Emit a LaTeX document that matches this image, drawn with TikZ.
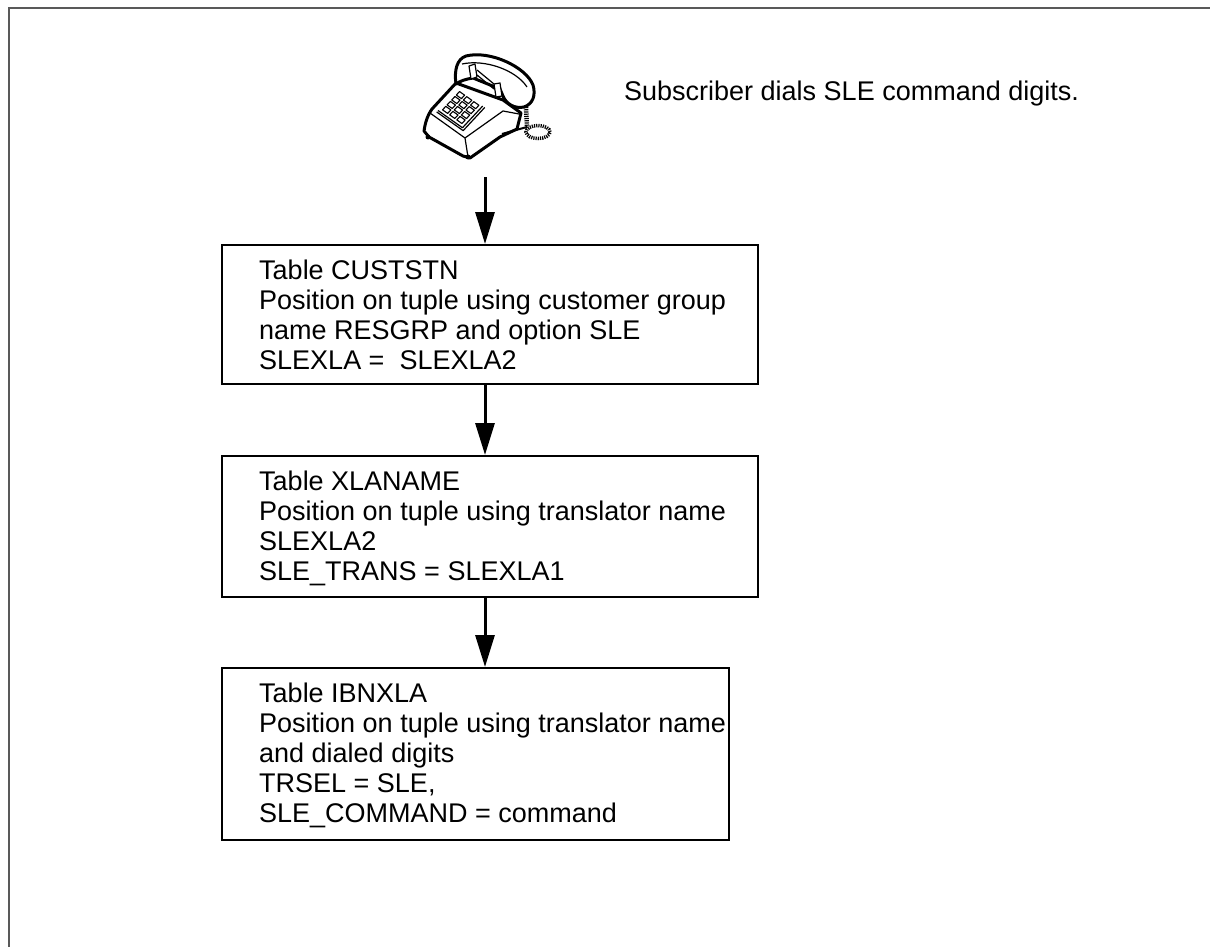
\documentclass[tikz,border=0pt]{standalone}
\usepackage{fontspec}
\setmainfont{Liberation Sans}
\usetikzlibrary{arrows.meta}
\begin{document}
\begin{tikzpicture}[x=1pt,y=-1pt,
  frame/.style={draw=black!65, line width=2pt},
  stepbox/.style={draw, line width=1.5pt, anchor=north west, inner sep=0pt},
  boxtext/.style={anchor=north west, inner sep=0pt, align=left, font=\fontsize{27}{30}\selectfont},
  flow/.style={line width=3pt, -{Triangle[length=32pt,width=19pt]}},
  ph/.style={line width=3pt, line join=round, line cap=round},
  thin/.style={line width=1.2pt, line join=round}]
\useasboundingbox (0,0) rectangle (1210,947);

% page frame (top and left rules)
\draw[frame] (9,947) -- (9,8.5) -- (1210,8.5);

% ---- desk telephone ----
% base
\draw[ph, fill=white] (456,83) -- (432,109) .. controls (427,116) and (425,124) .. (424,131)
  -- (429,137) -- (463,156) -- (470,158) -- (500,137) -- (517,129) -- (521,113) -- (503,100) -- cycle;
\draw[thin] (430,113) -- (465,138) -- (468,157);
\draw[thin] (465,138) -- (503,111) -- (519,114);
% keypad (drawn in the slanted plane of the base top)
\begin{scope}[shift={(430,113)}, x={(27pt,29pt)}, y={(34pt,-24pt)}]
  \draw[thin] (0.12,0.1) -- (0.12,0.88) -- (0.92,0.88);
  \draw[thin] (0.17,0.1) -- (0.17,0.82) -- (0.92,0.82);
  \foreach \i in {0,...,3}
    \foreach \j in {0,...,2}
      \draw[line width=1.1pt, fill=white, line join=round]
        (0.25+0.17*\i, 0.17+0.21*\j) -- ++(0.12,0) -- ++(0,0.15) -- ++(-0.12,0) -- cycle;
\end{scope}
% feet
\fill (428,137) circle (2.5pt);
\fill (468,157) circle (2.5pt);
% handset
\draw[ph, fill=white] (456,84) .. controls (454,70) and (457,59) .. (466,56)
  .. controls (490,50) and (526,67) .. (533,85)
  .. controls (536,95) and (533,104) .. (524,107)
  .. controls (515,109) and (506,104) .. (503,96) -- (500,89) -- (473,78)
  .. controls (466,79) and (460,81) .. (456,84) -- cycle;
\draw[thin] (462,64) .. controls (485,59) and (516,70) .. (527,87);
\draw[thin, fill=white] (469,66) -- (475,64) -- (477,77) -- (471,79) -- cycle;
\draw[thin, fill=white] (494,84) -- (500,83) -- (502,96) -- (496,97) -- cycle;
\draw[thin] (477,70) -- (494,84);
\draw[thin] (477,75) -- (494,89);
% coiled cord
\draw[line width=4.5pt, dash pattern=on 1.2pt off 1pt] (526,107) -- (527,127);
\draw[line width=3.5pt, dash pattern=on 1.2pt off 1pt] (538,132) ellipse (12pt and 6.5pt);
\draw[line width=2pt] (502,134) -- (516,130) -- (527,127);

\coordinate (handsetfoot) at (485,177);

\node[anchor=base west, inner sep=0pt, font=\fontsize{27}{30}\selectfont] (dials) at (624,101)
  {Subscriber dials SLE command digits.};

% ---- table boxes ----
\node[stepbox, minimum width=536pt, minimum height=139pt] (custstn) at (221,244) {};
\node[boxtext] (custstntxt) at (259,260)
  {Table CUSTSTN\\Position on tuple using customer group\\name RESGRP and option SLE\\SLEXLA = \ SLEXLA2};

\node[stepbox, minimum width=536pt, minimum height=141pt] (xlaname) at (221,455) {};
\node[boxtext] (xlanametxt) at (259,471)
  {Table XLANAME\\Position on tuple using translator name\\SLEXLA2\\SLE\_TRANS = SLEXLA1};

\node[stepbox, minimum width=507pt, minimum height=172pt] (ibnxla) at (221,667) {};
\node[boxtext] (ibnxlatxt) at (259,683)
  {Table IBNXLA\\Position on tuple using translator name\\and dialed digits\\TRSEL = SLE,\\SLE\_COMMAND = command};

% ---- flow arrows ----
\draw[flow] (handsetfoot) -- (custstn.north -| handsetfoot);
\draw[flow] (custstn.south -| handsetfoot) -- (xlaname.north -| handsetfoot);
\draw[flow] (xlaname.south -| handsetfoot) -- (ibnxla.north -| handsetfoot);
\end{tikzpicture}
\end{document}
